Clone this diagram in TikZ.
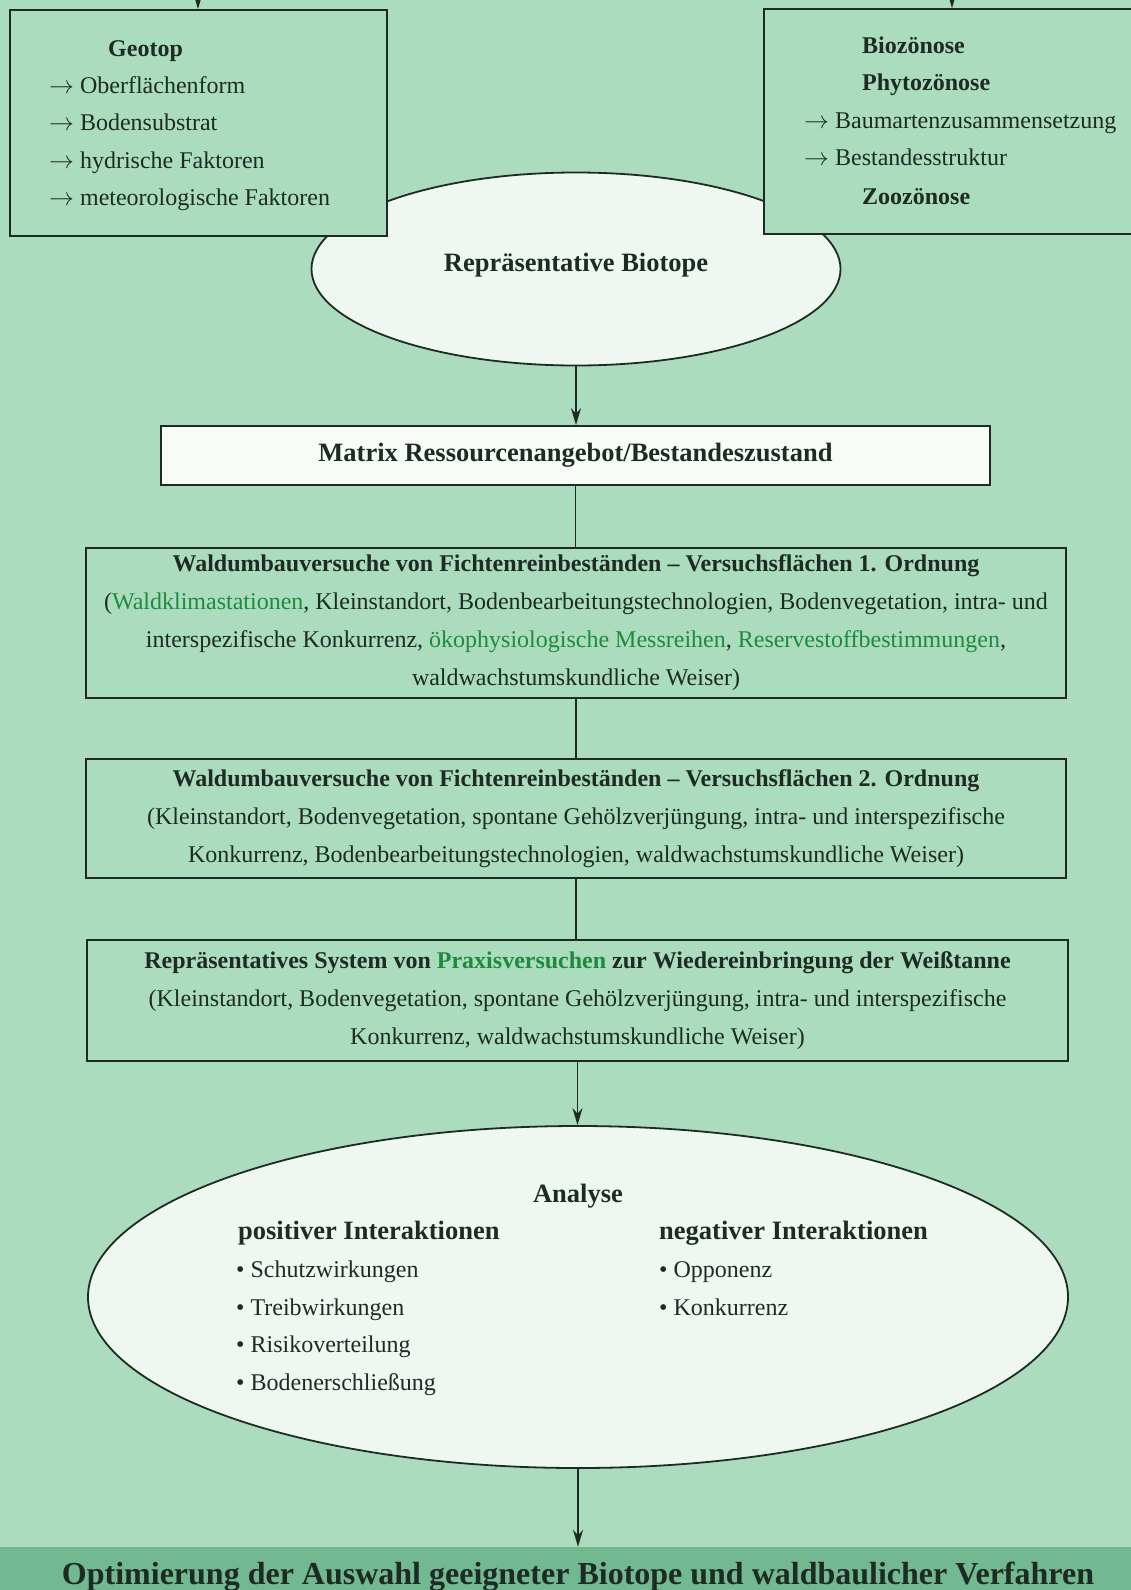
\documentclass[tikz,border=0pt]{standalone}
\usepackage{fontspec}
\setmainfont{Liberation Serif}
\usetikzlibrary{arrows.meta,positioning,shapes.geometric}
\definecolor{ink}{HTML}{1E2B24}
\definecolor{paper}{HTML}{ABDCBD}
\definecolor{pale}{HTML}{EEF8F1}
\definecolor{bright}{HTML}{F8FCF9}
\definecolor{leaf}{HTML}{1F8A3E}
\definecolor{band}{HTML}{72B891}
\newcommand{\hl}[1]{\textcolor{leaf}{#1}}
\tikzset{
  txt/.style={font=\fontsize{24}{38}\selectfont, text=ink, inner sep=0pt},
  bold/.style={txt, font=\fontsize{24}{38}\selectfont\bfseries},
  head/.style={txt, font=\fontsize{26.5}{38}\selectfont\bfseries},
  frame/.style={txt, draw=ink, line width=1.8pt, fill=paper, align=center},
  oval/.style={ellipse, draw=ink, line width=1.8pt, fill=pale, inner sep=0pt},
  arr/.style={-{Stealth[length=17pt,width=10pt]}, line width=1.8pt, draw=ink},
  link/.style={line width=1.8pt, draw=ink},
}

\begin{document}
\begin{tikzpicture}[x=1pt,y=-1pt]
  \fill[paper] (0,0) rectangle (1131,1590);
  \useasboundingbox (0,0) rectangle (1131,1590);

  % biotope ellipse lies under the two top boxes
  \node[oval, minimum width=529pt, minimum height=193pt] (bio) at (576,269) {};
  \node[head, anchor=base] (biotxt) at (576,271) {Repräsentative Biotope};

  \node[frame, minimum width=377pt, minimum height=226pt] (geo) at (198.5,123) {};
  \node[frame, minimum width=386pt, minimum height=225pt] (coen) at (957,121.5) {};
  \coordinate (inL) at (198,-2);
  \coordinate (inR) at (952,-2);
  \draw[arr] (inL) -- (geo.north -| inL);
  \draw[arr] (inR) -- (coen.north -| inR);

  \node[bold, anchor=base west] (geo0) at (108,56) {Geotop};
  \foreach \t [count=\i] in {Oberflächenform, Bodensubstrat, hydrische Faktoren, meteorologische Faktoren}
    \node[txt, anchor=base west] (geo\i) at (49,{56+37.4*\i}) {$\rightarrow$ \t};

  \foreach \y/\x/\t [count=\i] in {53/862/\textbf{Biozönose}, 90.5/862/\textbf{Phytozönose},
      128/804/$\rightarrow$ Baumartenzusammensetzung, 165.5/804/$\rightarrow$ Bestandesstruktur,
      204/862/\textbf{Zoozönose}}
    \node[txt, anchor=base west] (coen\i) at (\x,\y) {\t};

  \node[frame, fill=bright, minimum width=829pt, minimum height=59pt, font=\fontsize{26.5}{38}\selectfont\bfseries] (matrix) at (575.5,455.5)
    {Matrix Ressourcenangebot/Bestandeszustand};

  \node[frame, minimum width=980pt, minimum height=150pt] (ver1) at (576,623)
    {\textbf{Waldumbauversuche von Fichtenreinbeständen – Versuchsflächen 1. Ordnung}\\
     (\hl{Waldklimastationen}, Kleinstandort, Bodenbearbeitungstechnologien, Bodenvegetation, intra- und\\
     interspezifische Konkurrenz, \hl{ökophysiologische Messreihen}, \hl{Reservestoffbestimmungen},\\
     waldwachstumskundliche Weiser)};

  \node[frame, minimum width=980pt, minimum height=119pt] (ver2) at (576,818.5)
    {\textbf{Waldumbauversuche von Fichtenreinbeständen – Versuchsflächen 2. Ordnung}\\
     (Kleinstandort, Bodenvegetation, spontane Gehölzverjüngung, intra- und interspezifische\\
     Konkurrenz, Bodenbearbeitungstechnologien, waldwachstumskundliche Weiser)};

  \node[frame, minimum width=981pt, minimum height=121pt] (ver3) at (577.5,1000.5)
    {\textbf{Repräsentatives System von \hl{Praxisversuchen} zur Wiedereinbringung der Weißtanne}\\
     (Kleinstandort, Bodenvegetation, spontane Gehölzverjüngung, intra- und interspezifische\\
     Konkurrenz, waldwachstumskundliche Weiser)};

  \node[oval, minimum width=980pt, minimum height=342pt] (ana) at (578,1297) {};
  \node[head, anchor=base] (anatxt) at (578,1202) {Analyse};
  \node[head, anchor=base west] (pos) at (238,1239) {positiver Interaktionen};
  \node[head, anchor=base west] (neg) at (659,1239) {negativer Interaktionen};
  \foreach \t [count=\i] in {Schutzwirkungen, Treibwirkungen, Risikoverteilung, Bodenerschließung}
    \node[txt, anchor=base west] (pos\i) at (236,{1240+37.5*\i}) {• \t};
  \foreach \t [count=\i] in {Opponenz, Konkurrenz}
    \node[txt, anchor=base west] (neg\i) at (659,{1240+37.5*\i}) {• \t};

  \node[fill=band, minimum width=1131pt, minimum height=44pt, inner sep=0pt] (goalband) at (565.5,1569) {};
  \node[txt, font=\fontsize{32}{38}\selectfont\bfseries, anchor=base] (goal) at (578,1584)
    {Optimierung der Auswahl geeigneter Biotope und waldbaulicher Verfahren};

  \draw[arr] (bio.south) -- (bio.south |- matrix.north);
  \draw[link] (matrix.south) -- (matrix.south |- ver1.north);
  \draw[link] (ver1.south) -- (ver1.south |- ver2.north);
  \draw[link] (ver2.south) -- (ver2.south |- ver3.north);
  \draw[arr] (ver3.south) -- (ver3.south |- ana.north);
  \draw[arr] (ana.south) -- (ana.south |- goalband.north);
\end{tikzpicture}
\end{document}
